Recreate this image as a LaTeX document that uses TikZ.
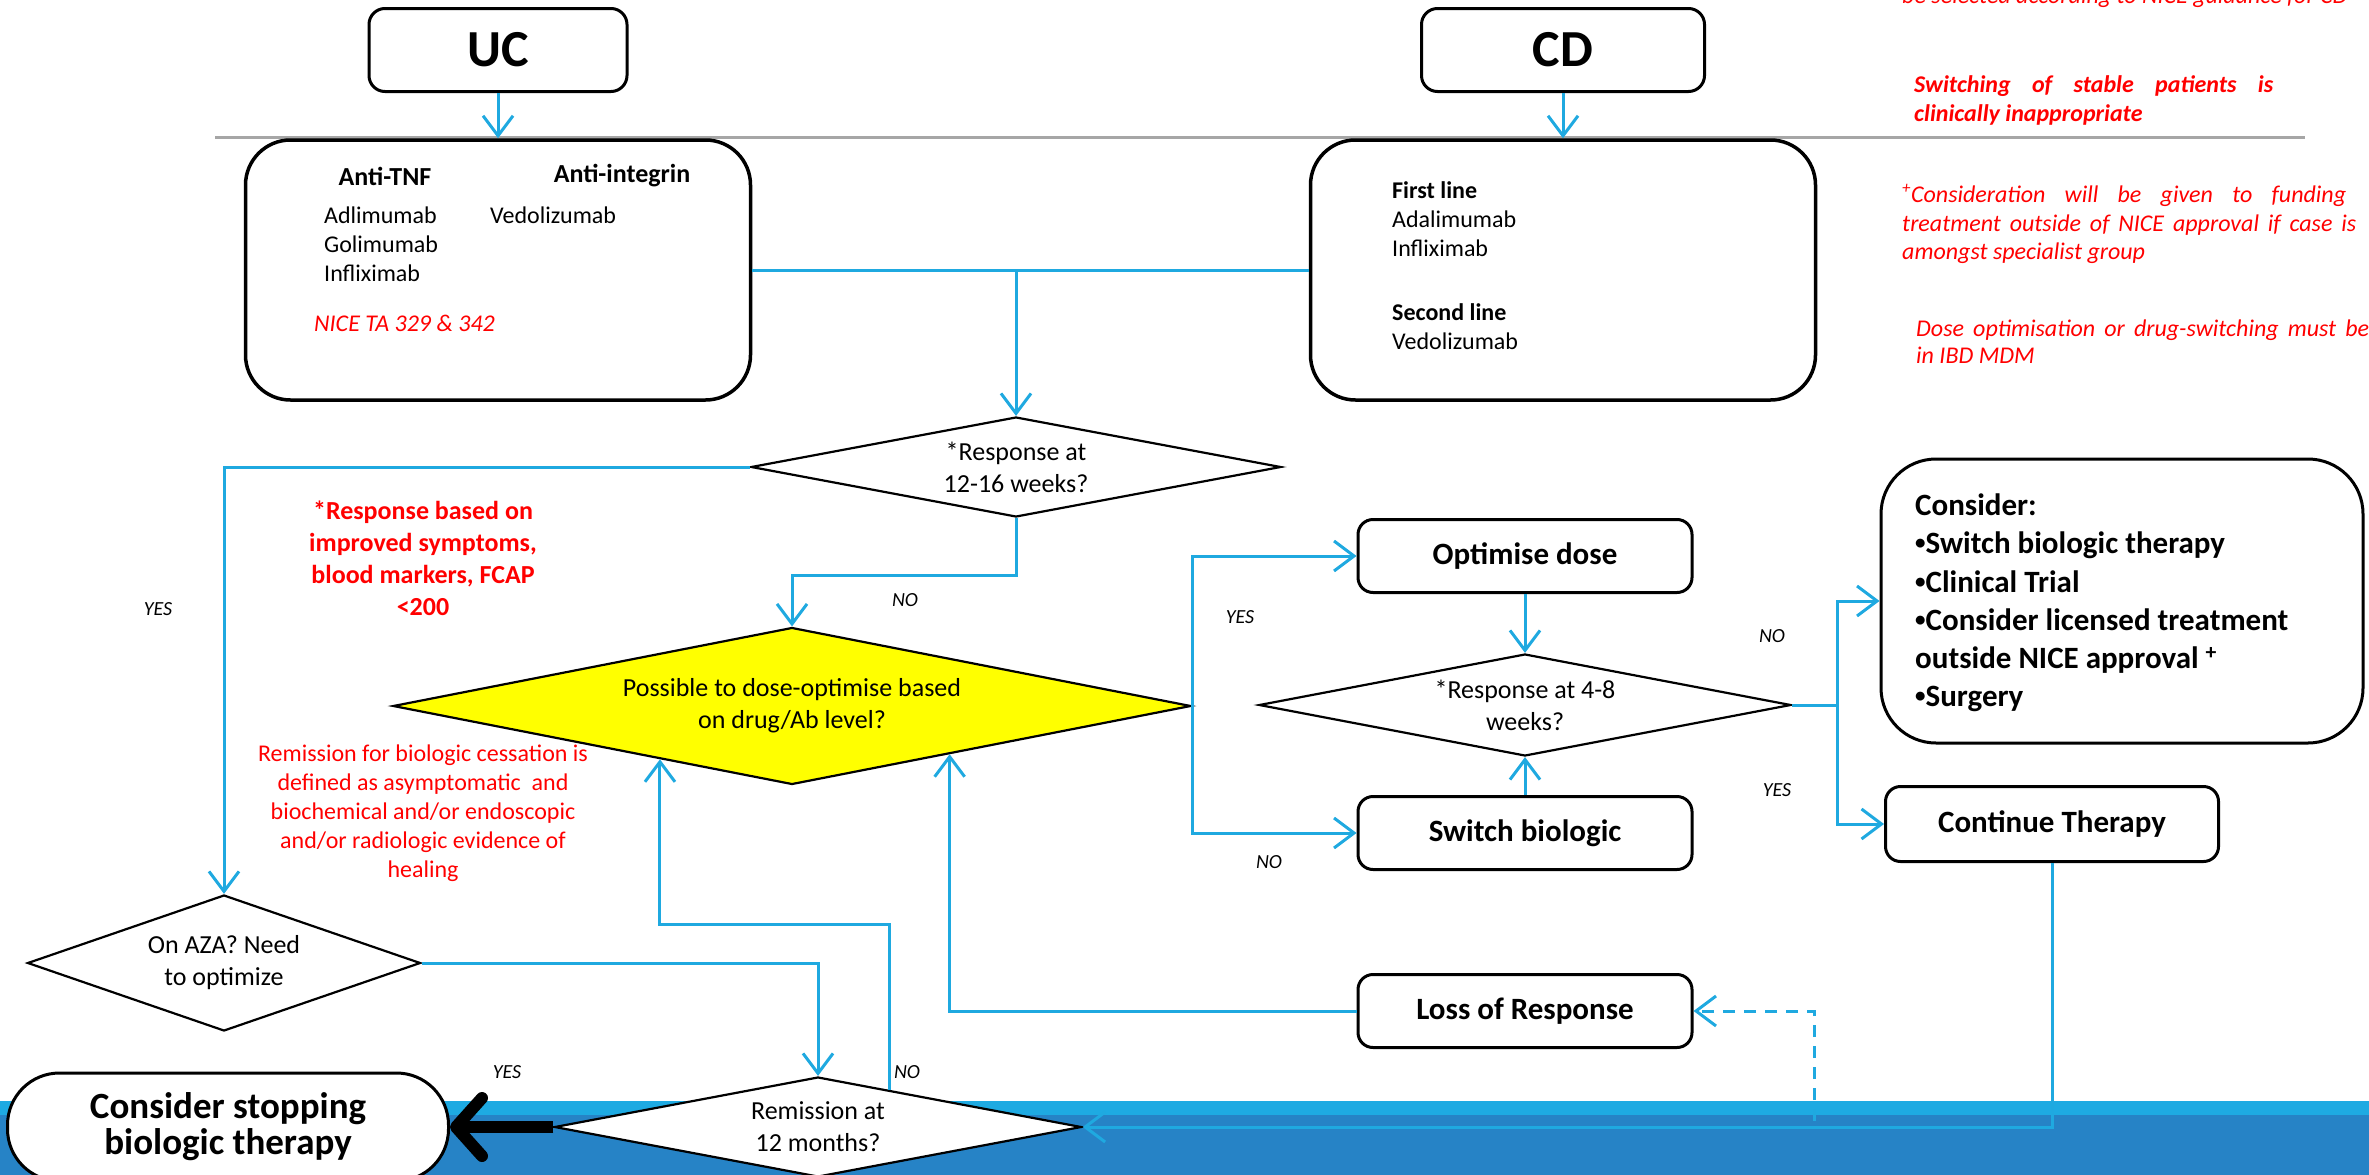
\documentclass[tikz,border=0pt]{standalone}
\usepackage{fontspec}
\setmainfont{Carlito}
\usepackage{tikz}
\usetikzlibrary{arrows.meta,shapes.geometric,positioning,calc}
\usepackage{xcolor}
\definecolor{flowblue}{RGB}{31,169,224}
\definecolor{bandlight}{RGB}{30,170,226}
\definecolor{banddark}{RGB}{38,131,198}
\definecolor{notered}{RGB}{255,0,0}
\definecolor{rulegray}{RGB}{166,166,166}
\definecolor{doseyellow}{RGB}{255,255,0}
\newcommand{\smallbul}{\raisebox{4pt}{\fontsize{21}{21}\selectfont •}}

\begin{document}
\begin{tikzpicture}[x=1pt, y=-1pt,
    flow/.style={draw=flowblue, line width=3pt, -{Straight Barb[length=20pt,width=30pt]}},
    link/.style={draw=flowblue, line width=3pt},
    titlebox/.style={draw, line width=3pt, rounded corners=16pt, minimum width=258pt, minimum height=83pt, font=\fontsize{52}{60}\selectfont\bfseries},
    drugbox/.style={draw, line width=3.5pt, rounded corners=45pt, minimum width=505pt, minimum height=260pt},
    stepbox/.style={draw, fill=white, line width=3pt, rounded corners=15pt, minimum width=334pt, minimum height=73pt, font=\fontsize{31}{38}\selectfont\bfseries},
    decision/.style={diamond, draw, line width=2.2pt, fill=white, inner sep=0pt, align=center, font=\fontsize{26}{32}\selectfont},
    body/.style={inner sep=0pt, font=\fontsize{24}{29}\selectfont},
    yn/.style={font=\fontsize{20}{24}\selectfont\itshape},
    rednote/.style={text=notered, align=center},
    stoparrow/.style={draw=black, line width=12pt, -{Straight Barb[length=26pt,width=58pt,round]}}
]
    \useasboundingbox (0,0) rectangle (2369,1175);

    % Background band
    \fill[bandlight] (0,1101) rectangle (2369,1115);
    \fill[banddark] (0,1115) rectangle (2369,1175);
    \draw[rulegray, line width=3pt] (215,137) -- (2305,137);

    % Top boxes
    \node[titlebox] (uc) at (498,50) {UC};
    \node[titlebox, minimum width=283pt] (cd) at (1563,50) {CD};
    \node[drugbox] (ucdrugs) at (498,270) {};
    \node[drugbox] (cddrugs) at (1563,270) {};

    % UC drugs
    \node[font=\fontsize{26}{30}\selectfont\bfseries] (antitnf) at (385,176) {Anti-TNF};
    \node[font=\fontsize{26}{30}\selectfont\bfseries] (antiint) at (622,176) {Anti-integrin};
    \node[body, anchor=west, align=left] (tnflist) at (324,244) {Adlimumab\\Golimumab\\Infliximab};
    \node[body, anchor=west] (vedouc) at (490,215) {Vedolizumab};
    \node[body, anchor=west, text=notered, font=\fontsize{24}{29}\selectfont\itshape] (nice) at (314,323) {NICE TA 329 \& 342};

    % CD drugs
    \node[body, anchor=west, align=left] (firstline) at (1392,219) {\textbf{First line}\\Adalimumab\\Infliximab};
    \node[body, anchor=west, align=left] (secondline) at (1392,327) {\textbf{Second line}\\Vedolizumab};

    % Decisions
    \node[decision, minimum width=530pt, minimum height=100pt, aspect=5.3] (resp12) at (1016,467) {*Response at\\12-16 weeks?};
    \node[decision, fill=doseyellow, minimum width=798pt, minimum height=157pt, aspect=5] (doseopt) at (792,706) {Possible to dose-optimise based\\on drug/Ab level?};
    \node[decision, minimum width=532pt, minimum height=102pt, aspect=5.2] (resp48) at (1525,705) {*Response at 4-8\\weeks?};
    \node[decision, minimum width=393pt, minimum height=136pt, aspect=2.9] (aza) at (224,963) {On AZA? Need\\to optimize};
    \node[decision, minimum width=527pt, minimum height=100pt, aspect=5.3] (remission) at (818,1127) {Remission at\\12 months?};

    % Steps
    \node[stepbox] (optdose) at (1525,556) {Optimise dose};
    \node[stepbox] (switchbio) at (1525,833) {Switch biologic};
    \node[stepbox] (lossresp) at (1525,1011) {Loss of Response};
    \node[stepbox, minimum width=333pt, minimum height=75pt] (contther) at (2052,824) {Continue Therapy};
    \node[draw, line width=3pt, rounded corners=55pt, minimum width=482pt, minimum height=284pt] (consider) at (2122,601) {};
    \node[anchor=west, align=left, inner sep=0pt, font=\fontsize{31}{38.2}\selectfont\bfseries] (considertext) at (1915,603)
        {Consider:\\\smallbul Switch biologic therapy\\\smallbul Clinical Trial\\\smallbul Consider licensed treatment\\outside NICE approval \textsuperscript{+}\\\smallbul Surgery};
    \node[draw, fill=white, line width=3pt, rounded corners=52pt, minimum width=441pt, minimum height=108pt, align=center, font=\fontsize{37}{36}\selectfont\bfseries] (stopbio) at (228,1127) {Consider stopping\\biologic therapy};

    % Notes
    \node[rednote, font=\fontsize{26}{32}\selectfont\bfseries] (respnote) at (423,558) {*Response based on\\improved symptoms,\\blood markers, FCAP\\<200};
    \node[rednote, body] (remnote) at (423,813) {Remission for biologic cessation is\\defined as asymptomatic~ and\\biochemical and/or endoscopic\\and/or radiologic evidence of\\healing};
    \node[text=notered, anchor=base west, inner sep=0pt, font=\fontsize{24}{29}\selectfont\itshape] (topnote) at (1902,4) {be selected according to NICE guidance for CD};
    \node[text=notered, anchor=west, align=left, inner sep=0pt, font=\fontsize{24}{29}\selectfont\bfseries\itshape] (switchnote) at (1914,100)
        {\makebox[359pt][s]{Switching of stable patients is}\\clinically inappropriate};
    \node[text=notered, anchor=west, align=left, inner sep=0pt, font=\fontsize{24}{28.5}\selectfont\itshape] (fundnote) at (1902,224)
        {\makebox[444pt][s]{\textsuperscript{+}Consideration will be given to funding}\\\makebox[454pt][s]{treatment outside of NICE approval if case is}\\amongst specialist group};
    \node[text=notered, anchor=west, align=left, inner sep=0pt, font=\fontsize{24}{27}\selectfont\itshape] (mdmnote) at (1916,342)
        {\makebox[453pt][s]{Dose optimisation or drug-switching must be}\\in IBD MDM};

    % Connectors
    \coordinate (split) at (1016,270);
    \draw[flow] (uc) -- (ucdrugs);
    \draw[flow] (cd) -- (cddrugs);
    \draw[link] (ucdrugs) -- (cddrugs);
    \draw[flow] (split) -- (resp12);
    \draw[flow] (resp12.west) -| (aza.north);
    \draw[flow] (resp12.south) -- ++(0,57) -| (doseopt.north);
    \draw[flow] (doseopt.east) |- (optdose.west);
    \draw[flow] (doseopt.east) |- (switchbio.west);
    \draw[flow] (optdose) -- (resp48);
    \draw[flow] (switchbio) -- (resp48);
    \draw[flow] (resp48.east) -- ++(45,0) |- (consider.west);
    \draw[flow] (resp48.east) -- ++(45,0) |- (contther.west);
    \draw[flow] (contther.south) |- (remission.east);
    \coordinate (lossfork) at (1814,1121);
    \draw[flow, dash pattern=on 12pt off 9pt] (lossfork) |- (lossresp.east);
    \coordinate (lossin) at ($(doseopt.east)!0.606!(doseopt.south)$);
    \draw[flow] (lossresp.west) -| (lossin);
    \draw[flow] (aza.east) -| (remission.north);
    \coordinate (remout) at ($(remission.north)!0.27!(remission.east)$);
    \coordinate (remin) at ($(doseopt.west)!0.67!(doseopt.south)$);
    \draw[flow] (remout) -- ++(0,-165) -| (remin);
    \draw[stoparrow] (remission.west) -- (stopbio.east);

    % Labels
    \node[yn] (yes1) at (158,609) {YES};
    \node[yn] (no1) at (905,600) {NO};
    \node[yn] (yes2) at (1240,617) {YES};
    \node[yn] (no2) at (1269,862) {NO};
    \node[yn] (no3) at (1772,636) {NO};
    \node[yn] (yes3) at (1777,790) {YES};
    \node[yn] (yes4) at (507,1072) {YES};
    \node[yn] (no4) at (907,1072) {NO};
\end{tikzpicture}
\end{document}
